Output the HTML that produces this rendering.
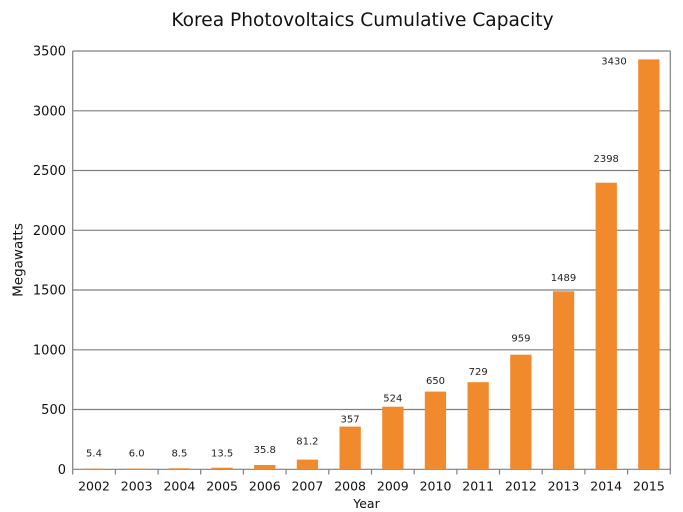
<!DOCTYPE html>
<html><head><meta charset="utf-8"><style>
html,body{margin:0;padding:0;background:#fff;}
svg{display:block;font-family:"DejaVu Sans","Liberation Sans",sans-serif;}
</style></head><body>
<svg width="683" height="512" viewBox="0 0 683 512" xmlns="http://www.w3.org/2000/svg">
<rect width="683" height="512" fill="#fff"/>
<text x="362.5" y="26" font-size="18.6" text-anchor="middle" fill="#111">Korea Photovoltaics Cumulative Capacity</text>
<g stroke="#7f7f7f" stroke-width="1.2">
<line x1="72.7" y1="51" x2="670.3" y2="51"/>
<line x1="72.7" y1="110.8" x2="670.3" y2="110.8"/>
<line x1="72.7" y1="170.5" x2="670.3" y2="170.5"/>
<line x1="72.7" y1="230.3" x2="670.3" y2="230.3"/>
<line x1="72.7" y1="290" x2="670.3" y2="290"/>
<line x1="72.7" y1="349.8" x2="670.3" y2="349.8"/>
<line x1="72.7" y1="409.5" x2="670.3" y2="409.5"/>
<line x1="72.7" y1="469.3" x2="670.3" y2="469.3"/>
<line x1="72.7" y1="51" x2="72.7" y2="469.3"/>
<line x1="670.3" y1="51" x2="670.3" y2="469.3"/>
</g>
<g fill="#f08a2c">
<rect x="83.4" y="468.65" width="21.3" height="0.65"/>
<rect x="126.1" y="468.6" width="21.3" height="0.72"/>
<rect x="168.7" y="468.3" width="21.3" height="1.02"/>
<rect x="211.4" y="467.7" width="21.3" height="1.61"/>
<rect x="254.1" y="465.0" width="21.3" height="4.28"/>
<rect x="296.8" y="459.6" width="21.3" height="9.70"/>
<rect x="339.5" y="426.6" width="21.3" height="42.67"/>
<rect x="382.2" y="406.7" width="21.3" height="62.63"/>
<rect x="424.8" y="391.6" width="21.3" height="77.68"/>
<rect x="467.5" y="382.2" width="21.3" height="87.13"/>
<rect x="510.2" y="354.7" width="21.3" height="114.61"/>
<rect x="552.9" y="291.3" width="21.3" height="177.96"/>
<rect x="595.6" y="182.7" width="21.3" height="286.60"/>
<rect x="638.2" y="59.4" width="21.3" height="409.93"/>
</g>
<g stroke="#7f7f7f" stroke-width="1.2">
<line x1="72.7" y1="469.3" x2="72.7" y2="474.5"/>
<line x1="115.4" y1="469.3" x2="115.4" y2="474.5"/>
<line x1="158.1" y1="469.3" x2="158.1" y2="474.5"/>
<line x1="200.7" y1="469.3" x2="200.7" y2="474.5"/>
<line x1="243.4" y1="469.3" x2="243.4" y2="474.5"/>
<line x1="286.1" y1="469.3" x2="286.1" y2="474.5"/>
<line x1="328.8" y1="469.3" x2="328.8" y2="474.5"/>
<line x1="371.5" y1="469.3" x2="371.5" y2="474.5"/>
<line x1="414.2" y1="469.3" x2="414.2" y2="474.5"/>
<line x1="456.9" y1="469.3" x2="456.9" y2="474.5"/>
<line x1="499.5" y1="469.3" x2="499.5" y2="474.5"/>
<line x1="542.2" y1="469.3" x2="542.2" y2="474.5"/>
<line x1="584.9" y1="469.3" x2="584.9" y2="474.5"/>
<line x1="627.6" y1="469.3" x2="627.6" y2="474.5"/>
<line x1="670.3" y1="469.3" x2="670.3" y2="474.5"/>
</g>
<g font-size="13" text-anchor="end" fill="#111">
<text x="66" y="55.7">3500</text>
<text x="66" y="115.5">3000</text>
<text x="66" y="175.2">2500</text>
<text x="66" y="235">2000</text>
<text x="66" y="294.7">1500</text>
<text x="66" y="354.5">1000</text>
<text x="66" y="414.2">500</text>
<text x="66" y="474">0</text>
</g>
<g font-size="12.5" text-anchor="middle" fill="#111">
<text x="94.0" y="490.5">2002</text>
<text x="136.7" y="490.5">2003</text>
<text x="179.4" y="490.5">2004</text>
<text x="222.1" y="490.5">2005</text>
<text x="264.8" y="490.5">2006</text>
<text x="307.4" y="490.5">2007</text>
<text x="350.1" y="490.5">2008</text>
<text x="392.8" y="490.5">2009</text>
<text x="435.5" y="490.5">2010</text>
<text x="478.2" y="490.5">2011</text>
<text x="520.9" y="490.5">2012</text>
<text x="563.5" y="490.5">2013</text>
<text x="606.2" y="490.5">2014</text>
<text x="648.9" y="490.5">2015</text>
</g>
<g font-size="10" text-anchor="middle" fill="#222">
<text x="94.0" y="456.6">5.4</text>
<text x="136.7" y="456.6">6.0</text>
<text x="179.4" y="456.6">8.5</text>
<text x="222.1" y="456.6">13.5</text>
<text x="264.8" y="452.8">35.8</text>
<text x="307.4" y="444.4">81.2</text>
<text x="350.1" y="422.6">357</text>
<text x="392.8" y="401.6">524</text>
<text x="435.5" y="384">650</text>
<text x="478.2" y="375">729</text>
<text x="520.9" y="341.5">959</text>
<text x="563.5" y="281">1489</text>
<text x="606.2" y="162">2398</text>
<text x="614" y="64.4">3430</text>
</g>
<text x="366.5" y="508" font-size="12.5" text-anchor="middle" fill="#111">Year</text>
<text transform="translate(22.5,260) rotate(-90)" font-size="13.5" text-anchor="middle" fill="#111">Megawatts</text>
</svg>
</body></html>
